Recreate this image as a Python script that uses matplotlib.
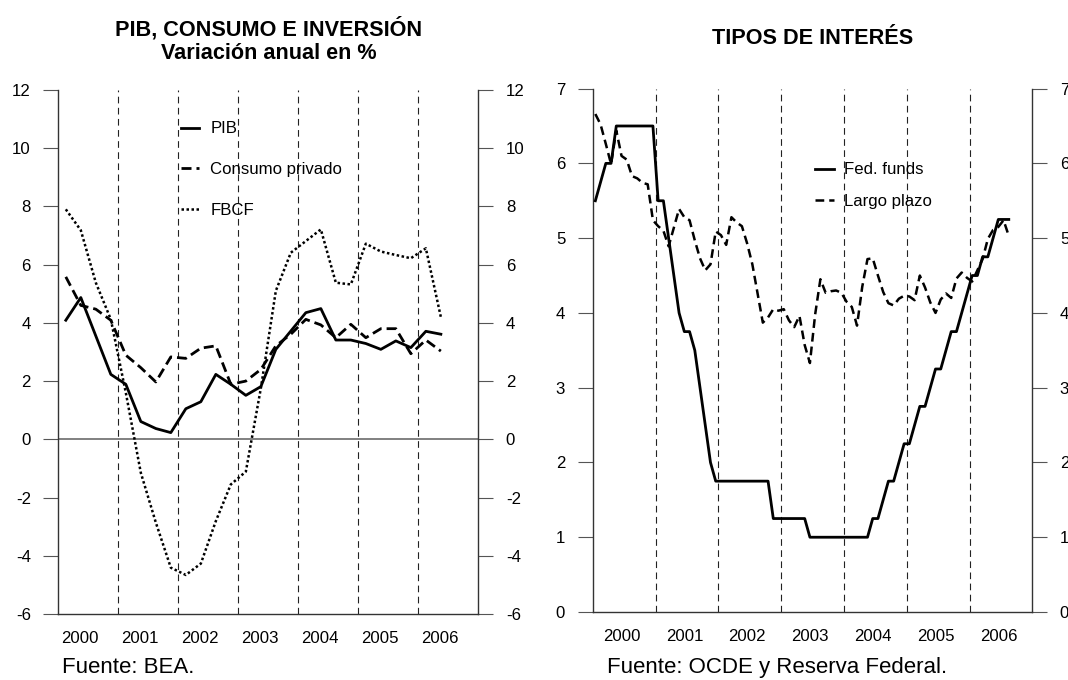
import numpy as np
import matplotlib.pyplot as plt

plt.rcParams['font.family'] = ['Liberation Sans', 'DejaVu Sans']
plt.rcParams['axes.unicode_minus'] = False

years = ['2000', '2001', '2002', '2003', '2004', '2005', '2006']

# quarterly growth, 2000Q1 .. 2006Q2 (%)
pib = [4.09, 4.87, 3.55, 2.23, 1.89, 0.61, 0.37, 0.23, 1.05, 1.29, 2.23, 1.89, 1.51,
       1.81, 3.09, 3.72, 4.35, 4.49, 3.41, 3.41, 3.29, 3.09, 3.38, 3.15, 3.71, 3.61]
consumo = [5.58, 4.60, 4.47, 4.09, 2.89, 2.46, 1.97, 2.83, 2.78, 3.13, 3.21, 1.89, 2.00,
           2.40, 3.21, 3.61, 4.12, 3.93, 3.49, 3.95, 3.49, 3.80, 3.80, 2.94, 3.41, 3.03]
fbcf = [7.90, 7.18, 5.38, 4.12, 1.60, -1.15, -2.86, -4.41, -4.66, -4.27, -2.81, -1.55, -1.11,
        1.75, 5.10, 6.41, 6.81, 7.21, 5.38, 5.32, 6.72, 6.45, 6.33, 6.22, 6.56, 4.20]

# monthly rates, Jan 2000 .. Aug 2006 (%)
fed_funds = [5.50, 5.75, 6.00, 6.00, 6.50, 6.50, 6.50, 6.50, 6.50, 6.50, 6.50, 6.50,
             5.50, 5.50, 5.00, 4.50, 4.00, 3.75, 3.75, 3.50, 3.00, 2.50, 2.00, 1.75,
             1.75, 1.75, 1.75, 1.75, 1.75, 1.75, 1.75, 1.75, 1.75, 1.75, 1.25, 1.25,
             1.25, 1.25, 1.25, 1.25, 1.25, 1.00, 1.00, 1.00, 1.00, 1.00, 1.00, 1.00,
             1.00, 1.00, 1.00, 1.00, 1.00, 1.25, 1.25, 1.50, 1.75, 1.75, 2.00, 2.25,
             2.25, 2.50, 2.75, 2.75, 3.00, 3.25, 3.25, 3.50, 3.75, 3.75, 4.00, 4.25,
             4.50, 4.50, 4.75, 4.75, 5.00, 5.25, 5.25, 5.25]
largo_plazo = [6.66, 6.52, 6.26, 5.99, 6.44, 6.10, 6.05, 5.83, 5.80, 5.74, 5.72, 5.24,
               5.16, 5.10, 4.89, 5.14, 5.39, 5.28, 5.24, 4.97, 4.73, 4.57, 4.65, 5.09,
               5.04, 4.91, 5.28, 5.21, 5.16, 4.93, 4.65, 4.26, 3.87, 3.94, 4.05, 4.03,
               4.05, 3.90, 3.81, 3.96, 3.57, 3.33, 3.98, 4.45, 4.27, 4.29, 4.30, 4.27,
               4.15, 4.08, 3.83, 4.35, 4.72, 4.73, 4.50, 4.28, 4.13, 4.10, 4.19, 4.23,
               4.22, 4.17, 4.50, 4.34, 4.14, 4.00, 4.18, 4.26, 4.20, 4.46, 4.54, 4.47,
               4.42, 4.57, 4.72, 4.99, 5.11, 5.15, 5.24, 5.03]

tq = 2000 + (np.arange(len(pib)) + 0.5) / 4
tm = 2000 + (np.arange(len(fed_funds)) + 0.5) / 12

fig = plt.figure(figsize=(10.68, 6.8), dpi=100)
ax1 = fig.add_axes([0.0546, 0.0971, 0.3933, 0.7706])
ax2 = fig.add_axes([0.555, 0.100, 0.4116, 0.7697])


def style(ax, yticks, lab_off):
    ax.set_xlim(2000, 2007)
    for yr in range(2001, 2007):
        ax.axvline(yr, color='#222222', lw=0.8, ls=(0, (6, 4)), zorder=1)
    ax.spines['top'].set_visible(False)
    for s in ['left', 'right', 'bottom']:
        ax.spines[s].set_color('#333333')
        ax.spines[s].set_linewidth(1.0)
    ax.set_yticks(yticks)
    ax.tick_params(axis='y', left=True, right=True, labelleft=True, labelright=True,
                   length=10.8, width=0.8, color='#555555', pad=9, labelsize=12.1)
    ax.set_xticks(np.arange(2000, 2007) + lab_off)
    ax.set_xticklabels(years)
    ax.tick_params(axis='x', length=0, pad=12, labelsize=12.1)


# left panel
style(ax1, np.arange(-6, 13, 2), 0.365)
ax1.set_ylim(-6, 12)
ax1.axhline(0, color='#808080', lw=1.4, zorder=1)
ax1.plot(tq, pib, color='black', lw=2.0, label='PIB', zorder=3)
ax1.plot(tq, consumo, color='black', lw=2.0, ls=(0, (3.6, 1.8)), label='Consumo privado', zorder=3)
ax1.plot(tq, fbcf, color='black', lw=1.8, ls=(0, (1, 1)), label='FBCF', zorder=3)
ax1.legend(loc='upper left', bbox_to_anchor=(0.292, 0.940), frameon=False, fontsize=12.1,
           handlelength=1.1, handletextpad=0.64, labelspacing=1.53, borderpad=0,
           borderaxespad=0)
ax1.set_title('PIB, CONSUMO E INVERSIÓN\nVariación anual en %', fontsize=15.6,
              fontweight='bold', pad=22)

# right panel
style(ax2, np.arange(0, 8), 0.46)
ax2.set_ylim(0, 7)
ax2.plot(tm, fed_funds, color='black', lw=2.0, label='Fed. funds', zorder=3)
ax2.plot(tm, largo_plazo, color='black', lw=1.8, ls=(0, (3.5, 2)), label='Largo plazo', zorder=3)
ax2.legend(loc='upper left', bbox_to_anchor=(0.5057, 0.859), frameon=False, fontsize=12.1,
           handlelength=1.1, handletextpad=0.64, labelspacing=1.0, borderpad=0,
           borderaxespad=0)
ax2.set_title('TIPOS DE INTERÉS', fontsize=15.6, fontweight='bold', pad=32)

fig.text(61.7 / 1068, 1 - 673 / 680, 'Fuente: BEA.', fontsize=16, va='baseline')
fig.text(606.7 / 1068, 1 - 673 / 680, 'Fuente: OCDE y Reserva Federal.', fontsize=16,
         va='baseline')

fig.savefig('out.png', dpi=100)
